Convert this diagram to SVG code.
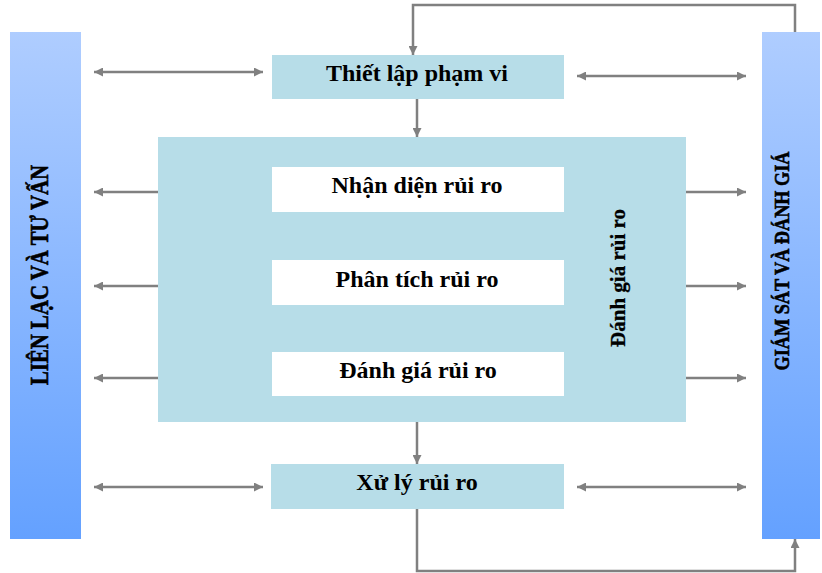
<svg xmlns="http://www.w3.org/2000/svg" width="822" height="573" viewBox="0 0 822 573">
  <defs>
    <linearGradient id="barFill" x1="0" y1="0" x2="0" y2="1">
      <stop offset="0" stop-color="#afcdff"/>
      <stop offset="1" stop-color="#64a1ff"/>
    </linearGradient>
    <marker id="head" viewBox="0 0 10 10" refX="10" refY="5" markerWidth="11" markerHeight="9" markerUnits="userSpaceOnUse" orient="auto-start-reverse">
      <path d="M0,0 L10,5 L0,10 Z" fill="#808080"/>
    </marker>
    <style>
      .bar { fill: url(#barFill); }
      .step { fill: #b7dde8; }
      .inner { fill: #ffffff; }
      .lbl { font-family: "Liberation Serif", "Times New Roman", serif; font-weight: bold; fill: #000; text-anchor: middle; }
      .box { font-size: 24px; }
      .vert { font-size: 21px; }
      .heavy { stroke: #000; stroke-width: 0.6; }
      .link { fill: none; stroke: #808080; stroke-width: 2.5; }
      .one { marker-end: url(#head); }
      .two { marker-start: url(#head); marker-end: url(#head); }
    </style>
  </defs>

  <!-- side bars -->
  <g id="lien-lac">
    <rect class="bar" x="10" y="32" width="71" height="507"/>
    <text class="lbl heavy" font-size="25" textLength="220" lengthAdjust="spacingAndGlyphs" transform="translate(48,275) rotate(-90)">LIÊN LẠC VÀ TƯ VẤN</text>
  </g>
  <g id="giam-sat">
    <rect class="bar" x="762" y="32" width="58" height="507"/>
    <text class="lbl heavy" font-size="22" textLength="219" lengthAdjust="spacingAndGlyphs" transform="translate(789,261) rotate(-90)">GIÁM SÁT VÀ ĐÁNH GIÁ</text>
  </g>

  <!-- process steps -->
  <g id="thiet-lap">
    <rect class="step" x="272" y="55" width="292" height="44"/>
    <text class="lbl box" x="417" y="81">Thiết lập phạm vi</text>
  </g>
  <g id="danh-gia-khung">
    <rect class="step" x="158" y="137" width="528" height="285"/>
    <text class="lbl vert" stroke="#000" stroke-width="0.3" transform="translate(624.5,278) rotate(-90)">Đánh giá rủi ro</text>
  </g>
  <g id="nhan-dien">
    <rect class="inner" x="272" y="167" width="292" height="45"/>
    <text class="lbl box" x="417" y="193">Nhận diện rủi ro</text>
  </g>
  <g id="phan-tich">
    <rect class="inner" x="272" y="260" width="292" height="45"/>
    <text class="lbl box" x="417" y="287">Phân tích rủi ro</text>
  </g>
  <g id="danh-gia">
    <rect class="inner" x="272" y="352" width="292" height="44"/>
    <text class="lbl box" x="418" y="378">Đánh giá rủi ro</text>
  </g>
  <g id="xu-ly">
    <rect class="step" x="271" y="464" width="293" height="45"/>
    <text class="lbl box" x="417" y="490">Xử lý rủi ro</text>
  </g>

  <!-- connectors -->
  <g id="connectors">
    <line class="link two" x1="94" y1="72" x2="263" y2="72"/>
    <line class="link two" x1="577" y1="76" x2="746" y2="76"/>
    <line class="link two" x1="94" y1="487" x2="263" y2="487"/>
    <line class="link two" x1="577" y1="487" x2="746" y2="487"/>

    <line class="link one" x1="158" y1="192" x2="94" y2="192"/>
    <line class="link one" x1="158" y1="286" x2="94" y2="286"/>
    <line class="link one" x1="158" y1="378" x2="94" y2="378"/>
    <line class="link one" x1="686" y1="192" x2="746" y2="192"/>
    <line class="link one" x1="686" y1="286" x2="746" y2="286"/>
    <line class="link one" x1="686" y1="378" x2="746" y2="378"/>

    <line class="link one" x1="417" y1="99" x2="417" y2="137"/>
    <line class="link one" x1="417" y1="422" x2="417" y2="464"/>

    <polyline class="link one" points="795,32 795,5 413,5 413,55"/>
    <polyline class="link one" points="417,509 417,571 795,571 795,539"/>
  </g>
</svg>
